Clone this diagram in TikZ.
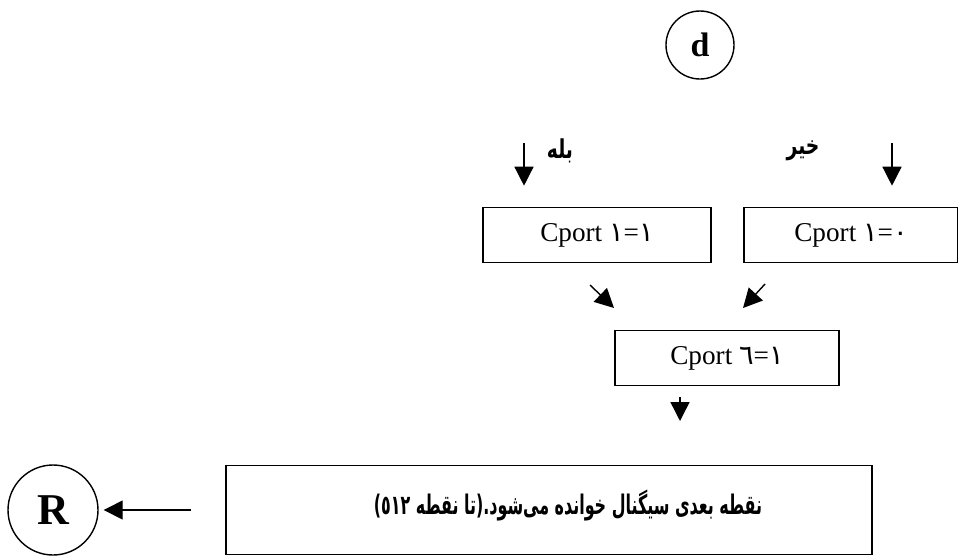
\documentclass[tikz,border=0pt]{standalone}
\usepackage{fontspec}
\setmainfont{Liberation Serif}
\newfontfamily\arabicfont[Script=Arabic]{DejaVu Sans}
\newfontfamily\persianfont[Script=Arabic, FakeStretch=0.72]{DejaVu Sans}
\newfontfamily\msgfont[Script=Arabic, FakeStretch=0.59]{DejaVu Sans}
\TeXXeTstate=1
\usetikzlibrary{arrows.meta}
\newcommand{\ardig}[1]{{\arabicfont #1}}
\tikzstyle{portbox} = [rectangle,
minimum height=27.5pt,
inner sep=0pt,
text centered,
draw=black, line width=0.8pt,
font=\fontsize{13.6}{16}\selectfont]
\tikzstyle{msgbox} = [rectangle,
minimum width=323pt,
minimum height=44.5pt,
inner sep=0pt,
draw=black, line width=0.8pt,
font=\msgfont\bfseries\fontsize{13.5}{15}\selectfont]
\tikzstyle{connector} = [circle, inner sep=0pt, draw=black, line width=0.7pt]
\tikzstyle{answer} = [font=\persianfont\bfseries\fontsize{13}{15}\selectfont]
\tikzstyle{arrow} = [line width=0.7pt,-{Triangle[length=9.5pt,width=9.5pt]}]

\begin{document}
\begin{tikzpicture}[x=0.5pt,y=-0.5pt,node distance=95pt]
    \useasboundingbox (0,0) rectangle (958,558);
    \node (d) [connector, minimum size=34pt, font=\bfseries\fontsize{17}{17}\selectfont] at (700,45) {d};
    \node (b1) [portbox, minimum width=114pt, below of=d, xshift=-51.5pt] {Cport \ardig{١}=\ardig{١}};
    \node (b2) [portbox, minimum width=107pt, right of=b1, xshift=32pt] {Cport \ardig{١}=\ardig{٠}};
    \node (b3) [portbox, minimum width=112pt, below of=b1, node distance=61.5pt, xshift=65pt] {Cport \ardig{٦}=\ardig{١}};
    \node (next) [msgbox, below of=b3, node distance=76pt, xshift=-89pt] {\hspace*{19pt}\raisebox{8pt}{\beginR نقطه بعدی سیگنال خوانده می‌شود.(تا نقطه \beginL٥١٢\endL)\endR}};
    \node (R) [connector, minimum size=45pt, font=\bfseries\fontsize{22}{22}\selectfont, left of=next, node distance=248pt] {R};

    % loose arrows
    \coordinate (yes) at (524,143);
    \coordinate (no) at (892,143);
    \coordinate (m1) at (590,285);
    \coordinate (m2) at (614,308);
    \coordinate (m3) at (765,284);
    \coordinate (m4) at (743,308);
    \coordinate (out) at (680,397);
    \coordinate (outtip) at (680,421);
    \node (yeslbl) [answer] at (560,151) {\beginR بله\endR};
    \node (nolbl) [answer] at (803,151) {\beginR خیر\endR};

    \draw [arrow, shorten >=10.5pt] (yes) -- (yes |- b1.north);
    \draw [arrow, shorten >=10.5pt] (no) -- (no |- b2.north);
    \draw [arrow] (m1) -- (m2);
    \draw [arrow] (m3) -- (m4);
    \draw [arrow] (out) -- (outtip);
    \draw [arrow, shorten <=17pt, shorten >=2.5pt] (next) -- (R);
\end{tikzpicture}
\end{document}
